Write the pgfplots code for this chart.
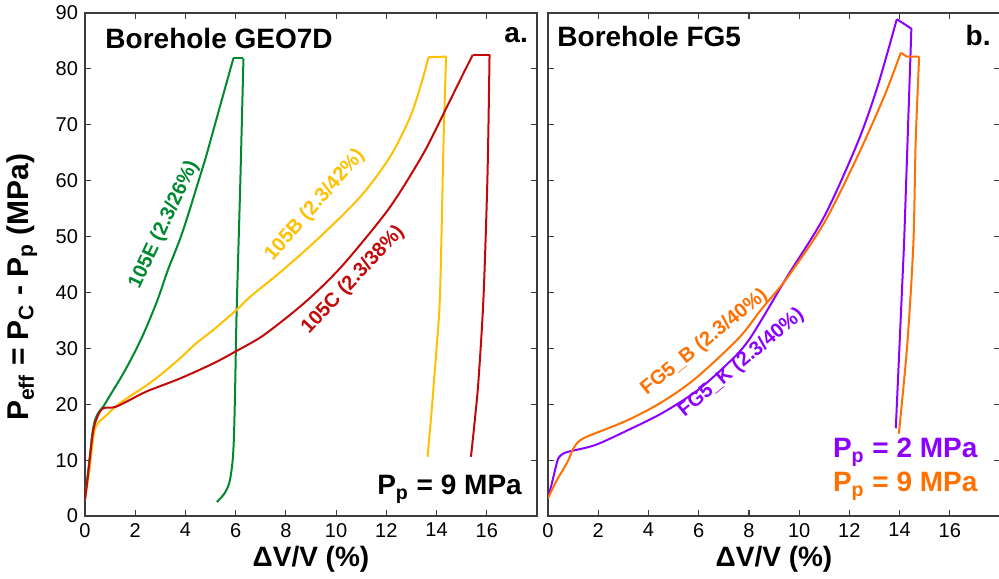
\documentclass[border=0pt]{standalone}
\usepackage{pgfplots}
\pgfplotsset{compat=1.18}
\usepackage{fontspec}
\setmainfont{Liberation Sans}

\definecolor{cGreen}{RGB}{0,138,48}
\definecolor{cYellow}{RGB}{255,192,0}
\definecolor{cRed}{RGB}{195,8,8}
\definecolor{cPurple}{RGB}{140,0,255}
\definecolor{cOrange}{RGB}{255,112,0}
\definecolor{cAxis}{RGB}{60,60,60}

\pgfplotsset{
    panel/.style={
        scale only axis,
        width=226pt, height=251.5pt,
        xmin=0, xmax=18, ymin=0, ymax=90,
        xtick={0,2,...,16}, ytick={0,10,...,90},
        tick align=inside,
        major tick length=3pt,
        axis line style={draw=cAxis, line width=0.9pt},
        tick style={cAxis, line width=0.6pt},
        ticklabel style={font=\fontsize{10}{10}\selectfont},
        /pgf/number format/assume math mode=true,
        xlabel={\textbf{ΔV/V (\%)}},
        xlabel style={at={(axis description cs:0.5,0)}, anchor=center, yshift=-21.5pt},
        label style={font=\fontsize{14}{14}\selectfont},
        every axis plot/.append style={line width=1pt},
    },
}
\tikzset{
    note/.style={font=\fontsize{14}{14}\selectfont\bfseries, inner sep=0pt},
    curvelabel/.style={font=\fontsize{10}{10}\selectfont\bfseries, inner sep=0pt},
}

\begin{document}
\begin{tikzpicture}
\useasboundingbox (-42.5pt,-31pt) rectangle (457pt,258pt);

% ---- panel a: borehole GEO7D ----
\begin{axis}[
    panel,
    ylabel={\textbf{P\textsubscript{eff} = P\textsubscript{C} - P\textsubscript{p} (MPa)}},
    ylabel style={at={(axis description cs:0,0.455)}, anchor=center, yshift=31.5pt, font=\fontsize{15}{15}\selectfont},
]
% 105E: loading, plateau, unloading
\addplot[cGreen, smooth] coordinates {
    (0,3.0) (0.1,7) (0.2,11) (0.3,15) (0.4,17.2) (0.55,18.6) (0.73,19.6) (1.0,21.6)
    (1.3,23.8) (1.6,26.1) (2.0,29.5) (2.4,33.3) (2.9,38.8) (3.3,44) (3.78,49.5)
    (4.1,53.8) (4.45,58.9) (4.8,64) (5.11,69) (5.5,75.3) (5.91,81.9)
};
\addplot[cGreen] coordinates {(5.91,81.9) (6.31,81.9)};
\addplot[cGreen, smooth] coordinates {
    (6.31,81.9) (6.18,58.9) (6.04,36.9) (5.98,23.1) (5.93,14) (5.87,9.5) (5.75,6)
    (5.55,4.0) (5.25,2.5)
};
% 105B
\addplot[cYellow, smooth] coordinates {
    (0,3.0) (0.1,6) (0.2,9) (0.3,13) (0.4,15.6) (0.55,16.8) (0.8,17.8) (1.39,20.2)
    (2.46,23.4) (3.1,25.6) (3.78,28.2) (4.4,30.8) (5.11,33.3) (6.04,36.9) (6.57,39.2)
    (7.77,43.6) (9.23,49.4) (10.96,57.1) (12.15,64.3) (12.95,71.4) (13.4,77.5) (13.68,82.1)
};
\addplot[cYellow] coordinates {(13.68,82.1) (14.38,82.2)};
\addplot[cYellow, smooth] coordinates {
    (14.38,82.2) (14.28,67.3) (14.14,40) (14.0,30) (13.9,24.3) (13.77,17) (13.64,10.6)
};
% 105C
\addplot[cRed, smooth] coordinates {
    (0,3.0) (0.1,6.5) (0.2,10.6) (0.3,14.5) (0.4,16.6) (0.55,18.3) (0.73,19.3) (1.2,19.5)
    (1.8,20.8) (2.46,22.3) (3.78,24.6) (5.11,27.3) (5.98,29.4) (7.0,32.0) (8.0,35.4)
    (8.83,38.5) (9.7,42.2) (10.56,46.4) (12.15,55.3) (13.48,64.9) (14.41,73.2)
    (15.07,79.2) (15.44,82.5)
};
\addplot[cRed] coordinates {(15.44,82.5) (16.11,82.5)};
\addplot[cRed, smooth] coordinates {
    (16.11,82.5) (16.03,61.3) (15.87,39.2) (15.67,24.3) (15.52,17) (15.37,10.6)
};
\node[note, anchor=west] at (axis cs:0.8,85.5) {Borehole GEO7D};
\node[note, anchor=east] at (axis cs:17.65,86.1) {a.};
\node[note, anchor=base east] at (axis cs:17.41,3.8) {P\textsubscript{p} = 9 MPa};
\node[curvelabel, text=cGreen, rotate=65] at (axis cs:3.15,52.1) {105E (2.3/26\%)};
\node[curvelabel, text=cYellow, rotate=49] at (axis cs:9.16,55.6) {105B (2.3/42\%)};
\node[curvelabel, text=cRed, rotate=47] at (axis cs:10.68,42.2) {105C (2.3/38\%)};
\end{axis}

% ---- panel b: borehole FG5 ----
\begin{axis}[
    panel,
    at={(231.5pt,0pt)},
    yticklabels={},
]
% FG5_K
\addplot[cPurple, smooth] coordinates {
    (0,3.2) (0.15,5.8) (0.28,8.2) (0.4,10.2) (0.55,11.0) (0.81,11.5) (1.88,12.7)
    (3.2,15.4) (4.54,18.4) (5.87,22.2) (7.0,26.6) (8.0,31.5) (9.52,42.8) (10.99,53.5)
    (12.32,66.7) (13.12,76.8) (13.89,88.9)
};
\addplot[cPurple] coordinates {(13.89,88.9) (14.47,87.2) (14.18,48.8) (13.85,15.7)};
% FG5_B
\addplot[cOrange, smooth] coordinates {
    (0,3.2) (0.35,6.4) (0.6,8.3) (0.81,10) (1.0,12) (1.21,13.3) (1.5,14.1) (1.88,14.8)
    (3.2,17.2) (4.54,20.4) (5.87,24.6) (7.59,31.8) (8.5,37) (9.52,42.6) (10.99,52.4)
    (12.32,64.3) (13.38,75) (14.05,82.9)
};
\addplot[cOrange] coordinates {(14.05,82.9) (14.29,82.2) (14.78,82.2)};
\addplot[cOrange, smooth] coordinates {
    (14.78,82.2) (14.64,66.7) (14.55,48.8) (14.31,30.9) (14.0,16) (13.98,15.1)
};
\node[note, anchor=west] at (axis cs:0.36,85.8) {Borehole FG5};
\node[note, anchor=east] at (axis cs:17.64,86.0) {b.};
\node[note, anchor=base east, text=cPurple] at (axis cs:17.12,10.4) {P\textsubscript{p} = 2 MPa};
\node[note, anchor=base east, text=cOrange] at (axis cs:17.12,4.3) {P\textsubscript{p} = 9 MPa};
\node[curvelabel, text=cOrange, rotate=39] at (axis cs:6.23,31.1) {FG5\_B (2.3/40\%)};
\node[curvelabel, text=cPurple, rotate=40] at (axis cs:7.70,27.4) {FG5\_K (2.3/40\%)};
\end{axis}
\end{tikzpicture}
\end{document}
